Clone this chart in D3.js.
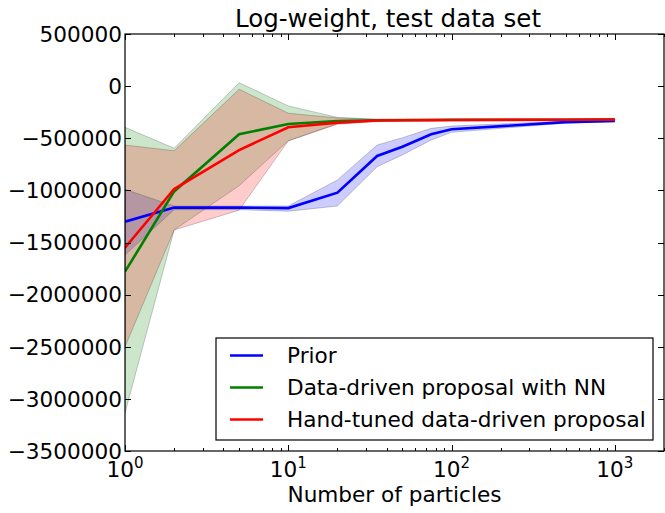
<!DOCTYPE html>
<html>
<head>
<meta charset="utf-8">
<title>Log-weight, test data set</title>
<script src="https://d3js.org/d3.v7.min.js"></script>
<style>
  body { margin: 0; background: #fff; }
  text { font-family: "DejaVu Sans", sans-serif; fill: #000; }
</style>
</head>
<body>
<svg width="665" height="513"></svg>
<script>
// number of particles (x)
var particles = [1, 2, 5, 10, 20, 35, 50, 75, 100, 500, 1000];

// Prior
var priorMean  = [-1300000, -1165000, -1165000, -1170000, -1022000, -670000, -581000, -462000, -414000, -345000, -335000];
var priorUpper = [-990000, -1150000, -1150000, -1150000, -900000, -565000, -495000, -405000, -383000, -335000, -327000];
var priorLower = [-1620000, -1185000, -1185000, -1200000, -1150000, -773000, -660000, -517000, -443000, -355000, -342000];

// Data-driven proposal with NN
var nnMean  = [-1780000, -1010000, -462000, -363000, -335000, -328000, -326000, -325000, -324000, -322000, -320000];
var nnUpper = [-395000, -596000, 33000, -190000, -300000, -318000, -320000, -320000, -320000, -318000, -315000];
var nnLower = [-3135000, -1380000, -955000, -525000, -360000, -335000, -330000, -328000, -327000, -325000, -323000];

// Hand-tuned data-driven proposal
var handMean  = [-1550000, -987000, -613000, -395000, -350000, -330000, -327000, -326000, -325000, -322000, -320000];
var handUpper = [-565000, -620000, -30000, -260000, -305000, -318000, -320000, -320000, -320000, -318000, -315000];
var handLower = [-2500000, -1380000, -1190000, -525000, -365000, -340000, -332000, -330000, -328000, -325000, -323000];

var yTicks = [500000, 0, -500000, -1000000, -1500000, -2000000, -2500000, -3000000, -3500000];
var xMajor = [1, 10, 100, 1000];

var series = [
  {name: "Prior", color: "#0000ff", mean: priorMean, lo: priorLower, hi: priorUpper},
  {name: "Data-driven proposal with NN", color: "#008000", mean: nnMean, lo: nnLower, hi: nnUpper},
  {name: "Hand-tuned data-driven proposal", color: "#ff0000", mean: handMean, lo: handLower, hi: handUpper}
];

var svg = d3.select("svg");
var mLeft = 125, mRight = 664, mTop = 34, mBottom = 451;

var x = d3.scaleLog().domain([1, 2000]).range([mLeft, mRight]);
var y = d3.scaleLinear().domain([-3500000, 500000]).range([mBottom, mTop]);

svg.append("defs").append("clipPath").attr("id", "clip")
  .append("rect").attr("x", mLeft).attr("y", mTop)
  .attr("width", mRight - mLeft).attr("height", mBottom - mTop);

var plot = svg.append("g").attr("clip-path", "url(#clip)");

var area = d3.area()
  .x(function(d) { return x(d.x); })
  .y0(function(d) { return y(d.lo); })
  .y1(function(d) { return y(d.hi); });

var line = d3.line()
  .x(function(d) { return x(d.x); })
  .y(function(d) { return y(d.v); });

series.forEach(function(s) {
  var pts = particles.map(function(p, i) { return {x: p, lo: s.lo[i], hi: s.hi[i]}; });
  plot.append("path").attr("d", area(pts))
    .attr("fill", s.color).attr("fill-opacity", 0.2)
    .attr("stroke", "#000").attr("stroke-opacity", 0.2).attr("stroke-width", 1);
});

series.forEach(function(s) {
  var pts = particles.map(function(p, i) { return {x: p, v: s.mean[i]}; });
  plot.append("path").attr("d", line(pts))
    .attr("fill", "none").attr("stroke", s.color).attr("stroke-width", 2.6);
});

// frame
svg.append("rect").attr("x", mLeft).attr("y", mTop)
  .attr("width", mRight - mLeft).attr("height", mBottom - mTop)
  .attr("fill", "none").attr("stroke", "#000").attr("stroke-width", 1.2);

// ticks point inward on all four sides
var xAll = x.ticks().filter(function(t) { return t >= 1 && t <= 2000; });
var tk = svg.append("g").attr("stroke", "#000").attr("stroke-width", 1);
xAll.forEach(function(t) {
  var major = xMajor.indexOf(t) >= 0;
  var len = major ? 6 : 3;
  var px = Math.round(x(t)) + 0.5;
  tk.append("line").attr("x1", px).attr("x2", px).attr("y1", mBottom).attr("y2", mBottom - len);
  tk.append("line").attr("x1", px).attr("x2", px).attr("y1", mTop).attr("y2", mTop + len);
});

yTicks.forEach(function(t) {
  var py = Math.round(y(t)) + 0.5;
  tk.append("line").attr("x1", mLeft).attr("x2", mLeft + 6).attr("y1", py).attr("y2", py);
  tk.append("line").attr("x1", mRight).attr("x2", mRight - 6).attr("y1", py).attr("y2", py);
});

// y tick labels
svg.append("g").selectAll("text").data(yTicks).join("text")
  .attr("x", mLeft - 3).attr("y", function(d) { return y(d); })
  .attr("dy", "0.36em").attr("text-anchor", "end")
  .style("font-size", "21.6px")
  .text(function(d) { return d < 0 ? "\u2212" + Math.abs(d) : String(d); });

// x tick labels 10^n
xMajor.forEach(function(t) {
  var tx = svg.append("text").attr("x", x(t)).attr("y", 477)
    .attr("text-anchor", "middle").style("font-size", "21.6px");
  tx.append("tspan").text("10");
  tx.append("tspan").attr("dy", "-9").style("font-size", "15px")
    .text(String(Math.round(Math.log10(t))));
});

svg.append("text").attr("x", (mLeft + mRight) / 2).attr("y", 502)
  .attr("text-anchor", "middle").style("font-size", "21.6px")
  .text("Number of particles");

svg.append("text").attr("x", 388).attr("y", 27)
  .attr("text-anchor", "middle").style("font-size", "24.5px")
  .text("Log-weight, test data set");

// legend
var lg = svg.append("g");
lg.append("rect").attr("x", 216).attr("y", 338).attr("width", 437).attr("height", 102)
  .attr("fill", "#fff").attr("stroke", "#000").attr("stroke-width", 1.2);
series.forEach(function(s, i) {
  var ly = 355.5 + i * 32;
  lg.append("line").attr("x1", 230).attr("x2", 263).attr("y1", ly).attr("y2", ly)
    .attr("stroke", s.color).attr("stroke-width", 2.6);
  lg.append("text").attr("x", 287).attr("y", ly).attr("dy", "0.36em")
    .style("font-size", "21.6px").text(s.name);
});
</script>
</body>
</html>
